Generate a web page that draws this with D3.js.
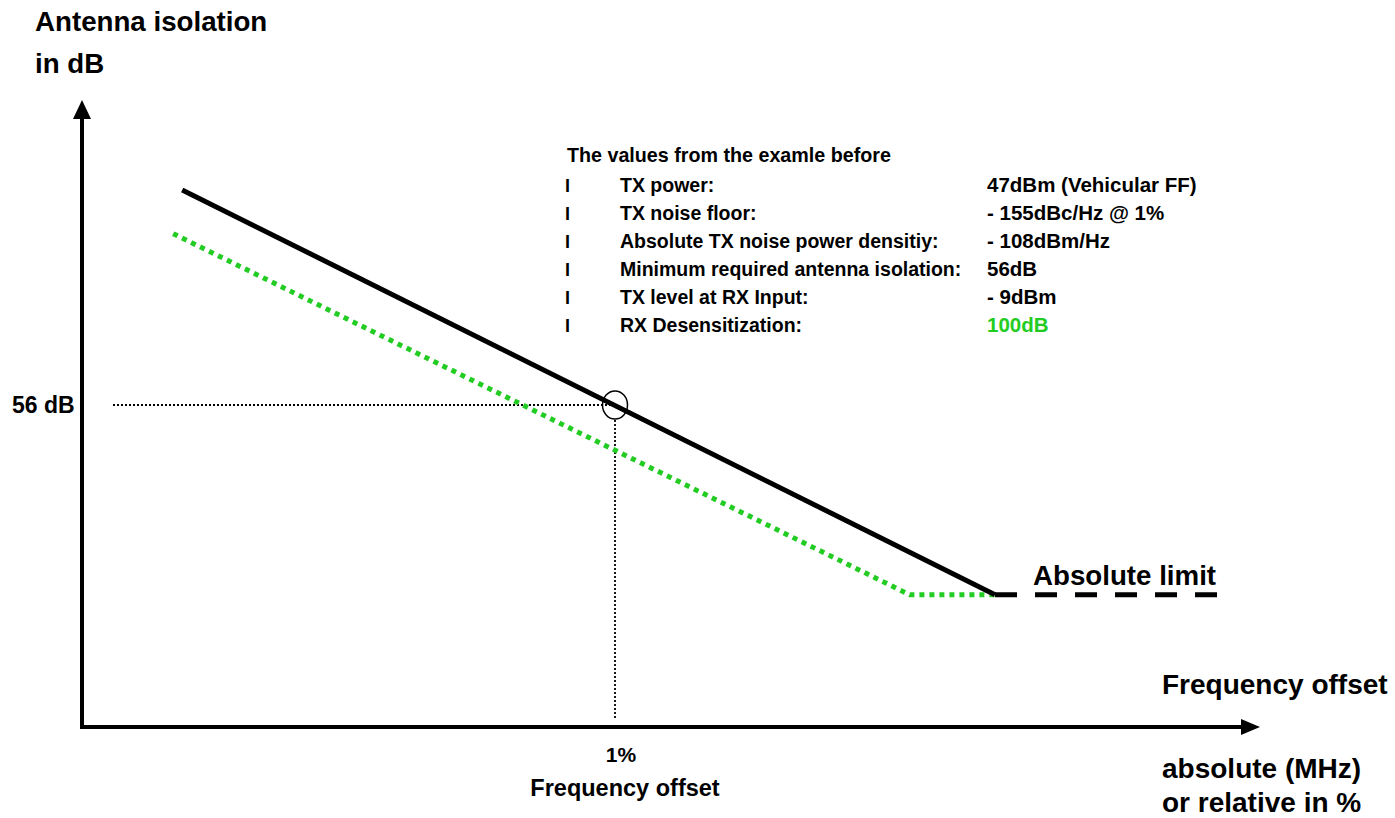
<!DOCTYPE html>
<html><head><meta charset="utf-8">
<script src="https://cdn.jsdelivr.net/npm/d3@7"></script>
<style>
body{margin:0;background:#fff;}
svg{display:block;}
.b{font-family:Arial,"Liberation Sans",sans-serif;font-weight:bold;fill:#000;}
</style></head><body>
<script>
// Frequency offset in %, isolation in dB
const blackX = [0.188, 1.713];
const blackY = [93.4, 23.0];
const limitX = [1.713, 2.139];
const limitY = [23.0, 23.0];
const greenX = [0.171, 1.553, 1.713];
const greenY = [85.8, 23.0, 23.0];
const markerX = 1.0, markerY = 56;
const legendTitle = "The values from the examle before";
const legendLabels = ["TX power:", "TX noise floor:", "Absolute TX noise power densitiy:", "Minimum required antenna isolation:", "TX level at RX Input:", "RX Desensitization:"];
const legendValues = ["47dBm (Vehicular FF)", "- 155dBc/Hz @ 1%", "- 108dBm/Hz", "56dB", "- 9dBm", "100dB"];
const legendValueColors = ["#000","#000","#000","#000","#000","#22cc22"];

const W = 1395, H = 818;
const svg = d3.select("body").append("svg").attr("width", W).attr("height", H);
const x = d3.scaleLinear().domain([0, 1]).range([82, 615]);
const y = d3.scaleLinear().domain([0, 56]).range([727, 405]);

// axes with arrows
svg.append("line").attr("x1", x(0)).attr("x2", x(0)).attr("y1", y(0)+2).attr("y2", 115).attr("stroke","#000").attr("stroke-width",4);
svg.append("path").attr("d", `M${x(0)},100 L${x(0)-9},119 L${x(0)+9},119 Z`).attr("fill","#000");
svg.append("line").attr("x1", x(0)-2).attr("x2", 1245).attr("y1", y(0)).attr("y2", y(0)).attr("stroke","#000").attr("stroke-width",4);
svg.append("path").attr("d", `M1260,${y(0)} L1241,${y(0)-8} L1241,${y(0)+8} Z`).attr("fill","#000");

// reference dotted lines
svg.append("line").attr("x1",113).attr("x2",x(markerX)).attr("y1",y(markerY)).attr("y2",y(markerY))
  .attr("stroke","#000").attr("stroke-width",1.8).attr("stroke-dasharray","2,2");
svg.append("line").attr("x1",x(markerX)).attr("x2",x(markerX)).attr("y1",y(markerY)+15).attr("y2",y(0)-9)
  .attr("stroke","#000").attr("stroke-width",1.8).attr("stroke-dasharray","2,2");

const line = d3.line().x(d=>x(d[0])).y(d=>y(d[1]));
// green dotted
svg.append("path").attr("d", line(d3.zip(greenX, greenY))).attr("fill","none")
  .attr("stroke","#22cc22").attr("stroke-width",5).attr("stroke-dasharray","5,5");
// black
svg.append("path").attr("d", line(d3.zip(blackX, blackY))).attr("fill","none")
  .attr("stroke","#000").attr("stroke-width",5);
svg.append("path").attr("d", line(d3.zip(limitX, limitY))).attr("fill","none")
  .attr("stroke","#000").attr("stroke-width",5).attr("stroke-dasharray","22,18");

// circle marker
svg.append("ellipse").attr("cx", x(markerX)).attr("cy", y(markerY)).attr("rx",12.5).attr("ry",14)
  .attr("fill","none").attr("stroke","#000").attr("stroke-width",1.5);

// texts
svg.append("text").attr("class","b").attr("x",35).attr("y",31).attr("font-size",27.7).text("Antenna isolation");
svg.append("text").attr("class","b").attr("x",35).attr("y",73).attr("font-size",27.7).text("in dB");
svg.append("text").attr("class","b").attr("x",12).attr("y",y(markerY)+8).attr("font-size",23).text("56 dB");
svg.append("text").attr("class","b").attr("x",1033).attr("y",585).attr("font-size",27.7).text("Absolute limit");
svg.append("text").attr("class","b").attr("x",1162).attr("y",694).attr("font-size",28).text("Frequency offset");
svg.append("text").attr("class","b").attr("x",1162).attr("y",778).attr("font-size",28).text("absolute (MHz)");
svg.append("text").attr("class","b").attr("x",1162).attr("y",812).attr("font-size",28).text("or relative in %");
svg.append("text").attr("class","b").attr("x",x(markerX)+6).attr("y",762).attr("font-size",21).attr("text-anchor","middle").text("1%");
svg.append("text").attr("class","b").attr("x",x(markerX)+10).attr("y",796).attr("font-size",23.5).attr("text-anchor","middle").text("Frequency offset");

// legend
svg.append("text").attr("class","b").attr("x",567).attr("y",162).attr("font-size",19.7).text(legendTitle);
legendLabels.forEach((t,i)=>{
  const yy = 192 + i*28;
  svg.append("text").attr("class","b").attr("x",565).attr("y",yy).attr("font-size",18).text("I");
  svg.append("text").attr("class","b").attr("x",620).attr("y",yy).attr("font-size",19.5).text(t);
  svg.append("text").attr("class","b").attr("x",987).attr("y",yy).attr("font-size",20.5).style("fill",legendValueColors[i]).text(legendValues[i]);
});
</script>
</body></html>
